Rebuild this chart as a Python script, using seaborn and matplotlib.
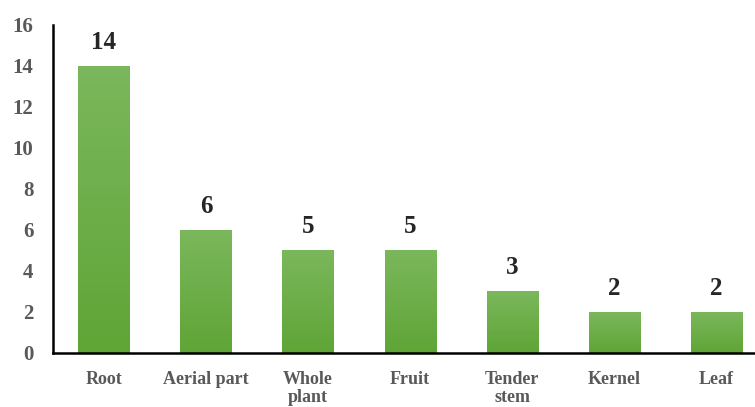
import numpy as np
import pandas as pd
import matplotlib.pyplot as plt
from matplotlib.colors import LinearSegmentedColormap
import seaborn as sns

# Data
parts = ['Root', 'Aerial part', 'Whole\nplant', 'Fruit', 'Tender\nstem', 'Kernel', 'Leaf']
counts = [14, 6, 5, 5, 3, 2, 2]

df = pd.DataFrame({'part': parts, 'count': counts})

sns.set_style('white')
plt.rcParams['font.family'] = ['Liberation Serif', 'DejaVu Serif']

fig = plt.figure(figsize=(7.55, 4.07), dpi=100)
ax = fig.add_axes([0.070, 0.133, 0.930, 0.806])

sns.barplot(x='part', y='count', data=df, ax=ax, color='#6aae45', width=0.5,
            saturation=1)

# light-to-dark green gradient on each bar
cmap = LinearSegmentedColormap.from_list('g', ['#5fa536', '#7bb75c'])
grad = np.linspace(0, 1, 256).reshape(-1, 1)
for bar in ax.patches:
    x0, y0 = bar.get_x(), bar.get_y()
    w, h = bar.get_width(), bar.get_height()
    im = ax.imshow(grad, cmap=cmap, origin='lower', aspect='auto',
                   extent=[x0, x0 + w, y0, y0 + h], zorder=bar.get_zorder())
    im.set_clip_path(bar)

for i, v in enumerate(counts):
    ax.text(i, v + 0.6, str(v), ha='center', va='bottom',
            fontsize=18, fontweight='bold', color='#262626')

ax.set_xlim(-0.5, 6.38)
ax.set_ylim(0, 16)
ax.set_yticks(range(0, 17, 2))
ax.set_xlabel('')
ax.set_ylabel('')
ax.tick_params(axis='y', length=0, pad=14, labelsize=15, labelcolor='#595959')
ax.tick_params(axis='x', length=0, pad=13, labelsize=13, labelcolor='#595959')
for lab in ax.get_xticklabels() + ax.get_yticklabels():
    lab.set_fontweight('bold')
for lab in ax.get_xticklabels():
    lab.set_linespacing(1.1)

sns.despine(ax=ax)
ax.spines['left'].set_linewidth(1.8)
ax.spines['bottom'].set_linewidth(1.8)
ax.spines['left'].set_color('black')
ax.spines['bottom'].set_color('black')

plt.savefig('out.png', dpi=100)
